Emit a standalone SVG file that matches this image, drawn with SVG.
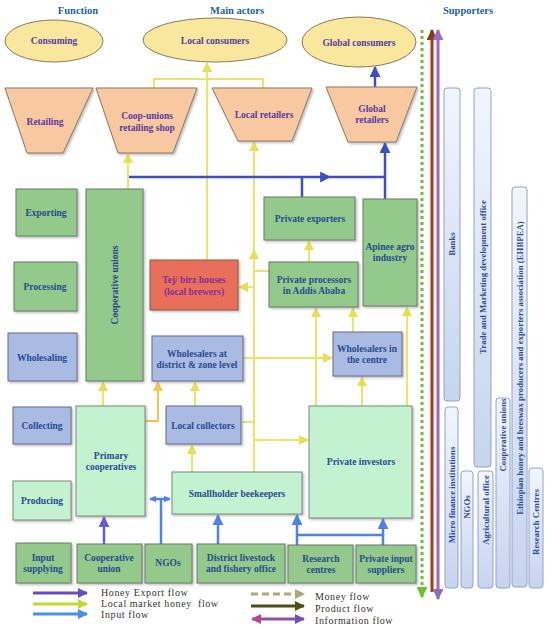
<svg xmlns="http://www.w3.org/2000/svg" width="550" height="629" viewBox="0 0 550 629">
<defs>
<style>
.hdr{font-family:"Liberation Serif",serif;font-weight:bold;font-size:10.5px;fill:#1f5fa0;text-anchor:middle}
.t{font-family:"Liberation Serif",serif;font-weight:bold;font-size:9.5px;fill:#2a4a8f;text-anchor:middle}
.tp{font-family:"Liberation Serif",serif;font-weight:bold;font-size:9.5px;fill:#5a3aa0;text-anchor:middle}
.tr{font-family:"Liberation Serif",serif;font-weight:bold;font-size:9.5px;fill:#8a2a9a;text-anchor:middle}
.st{font-family:"Liberation Serif",serif;font-weight:bold;font-size:8.8px;fill:#2a4a9a;text-anchor:middle}
.leg{font-family:"Liberation Serif",serif;font-size:10px;letter-spacing:0.6px;fill:#333;white-space:pre}
.ell{fill:#f8e79c;stroke:#8a7a55;stroke-width:1}
.trap{fill:#f8c8a0;stroke:#8a7a60;stroke-width:1}
.g{fill:#93c98b;stroke:#6a7a6a;stroke-width:1}
.l{fill:#a9bae3;stroke:#6a6a8a;stroke-width:1}
.lg{fill:#c2f2cf;stroke:#7a8a7a;stroke-width:1}
.red{fill:#e8705a;stroke:#8a5a3a;stroke-width:1}
.sup{fill:url(#supg);stroke:#8fa2cc;stroke-width:1}
.y{stroke:#ece46a;stroke-width:2;fill:none}
.yo{stroke:#f0c84a;stroke-width:2;fill:none}
.b{stroke:#3a4fc0;stroke-width:2.5;fill:none}
.i{stroke:#5080e8;stroke-width:2.5;fill:none}
</style>
<linearGradient id="supg" x1="0" y1="0" x2="0" y2="1">
<stop offset="0" stop-color="#f2f5fc"/>
<stop offset="1" stop-color="#c6d4ee"/>
</linearGradient>
<filter id="sh" x="-10%" y="-10%" width="130%" height="130%">
<feDropShadow dx="1.5" dy="1.5" stdDeviation="0.8" flood-color="#777" flood-opacity="0.5"/>
</filter>
<marker id="ay" viewBox="0 0 10 10" refX="9" refY="5" markerWidth="10" markerHeight="10" markerUnits="userSpaceOnUse" orient="auto"><path d="M0,0L10,5L0,10z" fill="#e6de55"/></marker>
<marker id="ayo" viewBox="0 0 10 10" refX="9" refY="5" markerWidth="10" markerHeight="10" markerUnits="userSpaceOnUse" orient="auto"><path d="M0,0L10,5L0,10z" fill="#f0c84a"/></marker>
<marker id="ab" viewBox="0 0 10 10" refX="9" refY="5" markerWidth="11" markerHeight="11" markerUnits="userSpaceOnUse" orient="auto"><path d="M0,0L10,5L0,10z" fill="#3a4fc0"/></marker>
<marker id="ai" viewBox="0 0 10 10" refX="9" refY="5" markerWidth="11" markerHeight="11" markerUnits="userSpaceOnUse" orient="auto"><path d="M0,0L10,5L0,10z" fill="#5080e8"/></marker>
<marker id="ais" viewBox="0 0 10 10" refX="9" refY="5" markerWidth="7" markerHeight="7" markerUnits="userSpaceOnUse" orient="auto"><path d="M0,0L10,5L0,10z" fill="#5080e8"/></marker>
<marker id="ais2" viewBox="0 0 10 10" refX="1" refY="5" markerWidth="7" markerHeight="7" markerUnits="userSpaceOnUse" orient="auto"><path d="M10,0L0,5L10,10z" fill="#5080e8"/></marker>
<marker id="acu" viewBox="0 0 10 10" refX="9" refY="5" markerWidth="11" markerHeight="11" markerUnits="userSpaceOnUse" orient="auto"><path d="M0,0L10,5L0,10z" fill="#6a5ad8"/></marker>
<marker id="agr" viewBox="0 0 10 10" refX="9" refY="5" markerWidth="11" markerHeight="11" markerUnits="userSpaceOnUse" orient="auto"><path d="M0,0L10,5L0,10z" fill="#6cc030"/></marker>
<marker id="abr" viewBox="0 0 10 10" refX="9" refY="5" markerWidth="11" markerHeight="11" markerUnits="userSpaceOnUse" orient="auto"><path d="M0,0L10,5L0,10z" fill="#8b3a12"/></marker>
<marker id="apu1" viewBox="0 0 10 10" refX="9" refY="5" markerWidth="11" markerHeight="11" markerUnits="userSpaceOnUse" orient="auto"><path d="M0,0L10,5L0,10z" fill="#9a6ac8"/></marker>
<marker id="apu2" viewBox="0 0 10 10" refX="9" refY="5" markerWidth="11" markerHeight="11" markerUnits="userSpaceOnUse" orient="auto"><path d="M0,0L10,5L0,10z" fill="#8a70b0"/></marker>
<marker id="lhe" viewBox="0 0 10 10" refX="9" refY="5" markerWidth="10" markerHeight="10" markerUnits="userSpaceOnUse" orient="auto"><path d="M0,0L10,5L0,10z" fill="#6a4ac0"/></marker>
<marker id="llm" viewBox="0 0 10 10" refX="9" refY="5" markerWidth="10" markerHeight="10" markerUnits="userSpaceOnUse" orient="auto"><path d="M0,0L10,5L0,10z" fill="#c8d830"/></marker>
<marker id="lin" viewBox="0 0 10 10" refX="9" refY="5" markerWidth="10" markerHeight="10" markerUnits="userSpaceOnUse" orient="auto"><path d="M0,0L10,5L0,10z" fill="#4a8ee8"/></marker>
<marker id="lmo" viewBox="0 0 10 10" refX="9" refY="5" markerWidth="10" markerHeight="10" markerUnits="userSpaceOnUse" orient="auto"><path d="M0,0L10,5L0,10z" fill="#a8aa78"/></marker>
<marker id="lpr" viewBox="0 0 10 10" refX="9" refY="5" markerWidth="10" markerHeight="10" markerUnits="userSpaceOnUse" orient="auto"><path d="M0,0L10,5L0,10z" fill="#4a5010"/></marker>
<marker id="lif1" viewBox="0 0 10 10" refX="9" refY="5" markerWidth="10" markerHeight="10" markerUnits="userSpaceOnUse" orient="auto"><path d="M0,0L10,5L0,10z" fill="#7050b0"/></marker>
<marker id="lif2" viewBox="0 0 10 10" refX="1" refY="5" markerWidth="10" markerHeight="10" markerUnits="userSpaceOnUse" orient="auto"><path d="M10,0L0,5L10,10z" fill="#c04090"/></marker>
</defs>
<rect width="550" height="629" fill="#ffffff"/>

<g id="headers">
<text class="hdr" x="78" y="14">Function</text>
<text class="hdr" x="237" y="14">Main actors</text>
<text class="hdr" x="468" y="14">Supporters</text>
</g>

<g id="connectors">
<line class="y" x1="128" y1="189" x2="128" y2="154" marker-end="url(#ay)"/>
<line class="y" x1="207" y1="260" x2="207" y2="63" marker-end="url(#ay)"/>
<polyline class="y" points="154,88 154,79 263,79 263,88"/>
<line class="y" x1="254" y1="472" x2="254" y2="250" marker-end="url(#ay)"/>
<line class="y" x1="254" y1="250" x2="254" y2="142" marker-end="url(#ay)"/>
<line class="y" x1="254" y1="287" x2="239" y2="287" marker-end="url(#ay)"/>
<line class="y" x1="254" y1="271" x2="269" y2="271"/>
<line class="y" x1="241" y1="422" x2="254" y2="422"/>
<line class="y" x1="254" y1="440" x2="308" y2="440" marker-end="url(#ay)"/>
<line class="y" x1="243" y1="358" x2="332" y2="358" marker-end="url(#ay)"/>
<line class="y" x1="309" y1="262" x2="309" y2="241" marker-end="url(#ay)"/>
<line class="y" x1="316" y1="406" x2="316" y2="308" marker-end="url(#ay)"/>
<line class="y" x1="353" y1="332" x2="353" y2="308" marker-end="url(#ay)"/>
<line class="y" x1="407" y1="406" x2="407" y2="307" marker-end="url(#ay)"/>
<line class="y" x1="362" y1="406" x2="362" y2="377" marker-end="url(#ay)"/>
<line class="y" x1="103" y1="406" x2="103" y2="382" marker-end="url(#ay)"/>
<polyline class="yo" points="145,421 158,421 158,382" marker-end="url(#ayo)"/>
<line class="y" x1="195" y1="406" x2="195" y2="382" marker-end="url(#ay)"/>
<line class="y" x1="192" y1="472" x2="192" y2="445" marker-end="url(#ay)"/>
<line class="b" x1="129" y1="177" x2="330" y2="177" marker-end="url(#ab)"/>
<line class="b" x1="330" y1="177" x2="385" y2="177"/>
<line class="b" x1="302" y1="177" x2="302" y2="197"/>
<line class="b" x1="385" y1="199" x2="385" y2="143" marker-end="url(#ab)"/>
<line class="b" x1="375" y1="87" x2="375" y2="67" marker-end="url(#ab)"/>
<line class="i" x1="161" y1="544" x2="161" y2="499"/>
<line class="i" x1="150" y1="499" x2="170" y2="499" stroke-width="2" marker-start="url(#ais2)" marker-end="url(#ais)"/>
<line x1="104" y1="544" x2="104" y2="517" stroke="#6a5ad8" stroke-width="2.5" marker-end="url(#acu)"/>
<line class="i" x1="218" y1="544" x2="218" y2="515" marker-end="url(#ai)"/>
<polyline class="i" points="297,545 297,535 383,535 383,545"/>
<line class="i" x1="297" y1="535" x2="297" y2="515" marker-end="url(#ai)"/>
<line class="i" x1="383" y1="535" x2="383" y2="519" marker-end="url(#ai)"/>
<line x1="422" y1="30" x2="422" y2="597" stroke="#6cc030" stroke-width="3" stroke-dasharray="3,3" marker-end="url(#agr)"/>
<line x1="432" y1="592" x2="432" y2="30" stroke="#a83818" stroke-width="3" marker-end="url(#abr)"/>
<line x1="438" y1="40" x2="438" y2="590" stroke="#a068b8" stroke-width="3"/>
<line x1="438" y1="40" x2="438" y2="30" stroke="#a068b8" stroke-width="3" marker-end="url(#apu1)"/>
<line x1="438" y1="590" x2="438" y2="599" stroke="#8a70b0" stroke-width="3" marker-end="url(#apu2)"/>
</g>

<g id="consuming"><ellipse class="ell" cx="54" cy="41" rx="49" ry="21"/><text class="tp" x="54" y="44">Consuming</text></g>
<g id="local-consumers"><ellipse class="ell" cx="215" cy="40" rx="72" ry="22"/><text class="tp" x="215" y="44">Local consumers</text></g>
<g id="global-consumers"><ellipse class="ell" cx="359" cy="42" rx="57" ry="25"/><text class="tp" x="359" y="46">Global consumers</text></g>

<g id="retailing"><polygon class="trap" points="5,88 93,88 63,153 27,153" filter="url(#sh)"/><text class="tp" x="45" y="125">Retailing</text></g>
<g id="coop-shop"><polygon class="trap" points="96,88 197,88 173,153 118,153" filter="url(#sh)"/><text class="tp" x="147" y="119">Coop-unions</text><text class="tp" x="147" y="131">retailing shop</text></g>
<g id="local-retailers"><polygon class="trap" points="212,88 312,88 292,141 238,141" filter="url(#sh)"/><text class="tp" x="264" y="118">Local retailers</text></g>
<g id="global-retailers"><polygon class="trap" points="326,87 417,87 396,142 348,142" filter="url(#sh)"/><text class="tp" x="372" y="112">Global</text><text class="tp" x="372" y="123">retailers</text></g>

<g id="exporting"><rect class="g" x="16" y="189" width="61" height="47" filter="url(#sh)"/><text class="t" x="46" y="216">Exporting</text></g>
<g id="processing"><rect class="g" x="14" y="262" width="63" height="49" filter="url(#sh)"/><text class="t" x="45" y="290">Processing</text></g>
<g id="wholesaling"><rect class="l" x="8" y="333" width="69" height="48" filter="url(#sh)"/><text class="t" x="42" y="361">Wholesaling</text></g>
<g id="collecting"><rect class="l" x="13" y="407" width="58" height="37" filter="url(#sh)"/><text class="t" x="42" y="429">Collecting</text></g>
<g id="producing"><rect class="lg" x="13" y="481" width="58" height="39" filter="url(#sh)"/><text class="t" x="42" y="504">Producing</text></g>
<g id="input-supplying"><rect class="g" x="16" y="543" width="55" height="40" filter="url(#sh)"/><text class="t" x="43" y="561">Input</text><text class="t" x="43" y="572">supplying</text></g>

<g id="cooperative-unions"><rect class="g" x="86" y="189" width="57" height="192" filter="url(#sh)"/><text class="t" transform="translate(118,285) rotate(-90)">Cooperative unions</text></g>
<g id="tej-birz"><rect class="red" x="150" y="260" width="88" height="50" filter="url(#sh)"/><text class="tr" x="194" y="283">Tej/ birz houses</text><text class="tr" x="194" y="295">(local brewers)</text></g>
<g id="private-exporters"><rect class="g" x="264" y="197" width="91" height="43" filter="url(#sh)"/><text class="t" x="310" y="222">Private exporters</text></g>
<g id="apinee"><rect class="g" x="363" y="199" width="54" height="107" filter="url(#sh)"/><text class="t" x="390" y="250">Apinee agro</text><text class="t" x="390" y="261">industry</text></g>
<g id="private-processors"><rect class="g" x="269" y="262" width="89" height="45" filter="url(#sh)"/><text class="t" x="314" y="283">Private processors</text><text class="t" x="314" y="294">in Addis Ababa</text></g>
<g id="wholesalers-district"><rect class="l" x="152" y="336" width="91" height="45" filter="url(#sh)"/><text class="t" x="197" y="357">Wholesalers at</text><text class="t" x="197" y="368">district &amp; zone level</text></g>
<g id="wholesalers-centre"><rect class="l" x="333" y="332" width="69" height="44" filter="url(#sh)"/><text class="t" x="367" y="352">Wholesalers in</text><text class="t" x="367" y="363">the centre</text></g>
<g id="local-collectors"><rect class="l" x="166" y="406" width="75" height="38" filter="url(#sh)"/><text class="t" x="203" y="429">Local collectors</text></g>
<g id="primary-cooperatives"><rect class="lg" x="76" y="406" width="69" height="110" filter="url(#sh)"/><text class="t" x="111" y="459">Primary</text><text class="t" x="111" y="470">cooperatives</text></g>
<g id="smallholder"><rect class="lg" x="172" y="472" width="130" height="42" filter="url(#sh)"/><text class="t" x="237" y="497">Smallholder beekeepers</text></g>
<g id="private-investors"><rect class="lg" x="309" y="406" width="103" height="112" filter="url(#sh)"/><text class="t" x="361" y="465">Private investors</text></g>

<g id="cooperative-union"><rect class="g" x="77" y="544" width="65" height="39" filter="url(#sh)"/><text class="t" x="109" y="561">Cooperative</text><text class="t" x="109" y="572">union</text></g>
<g id="ngos"><rect class="g" x="145" y="544" width="47" height="39" filter="url(#sh)"/><text class="t" x="168" y="566">NGOs</text></g>
<g id="district-office"><rect class="g" x="197" y="544" width="88" height="39" filter="url(#sh)"/><text class="t" x="241" y="561">District livestock</text><text class="t" x="241" y="572">and fishery office</text></g>
<g id="research-centres"><rect class="g" x="288" y="545" width="65" height="38" filter="url(#sh)"/><text class="t" x="321" y="562">Research</text><text class="t" x="321" y="573">centres</text></g>
<g id="private-input"><rect class="g" x="356" y="545" width="60" height="38" filter="url(#sh)"/><text class="t" x="386" y="562">Private input</text><text class="t" x="386" y="573">suppliers</text></g>

<g id="supporters">
<g id="banks"><rect class="sup" x="444" y="88" width="16" height="313" rx="3"/><text class="st" transform="translate(455,244) rotate(-90)">Banks</text></g>
<g id="trade-office"><rect class="sup" x="474" y="88" width="17" height="379" rx="3"/><text class="st" transform="translate(485.5,277) rotate(-90)">Trade and Marketing development office</text></g>
<g id="ehbpea"><rect class="sup" x="512" y="187" width="15" height="400" rx="3"/><text class="st" transform="translate(522.5,368) rotate(-90)">Ethiopian honey and beeswax producers and exporters association (EHBPEA)</text></g>
<g id="mfi"><rect class="sup" x="445" y="407" width="13" height="181" rx="3"/><text class="st" transform="translate(454.5,495) rotate(-90)">Micro finance institutions</text></g>
<g id="s-ngos"><rect class="sup" x="461" y="471" width="12" height="117" rx="3"/><text class="st" transform="translate(470,507) rotate(-90)">NGOs</text></g>
<g id="agri-office"><rect class="sup" x="478" y="471" width="15" height="117" rx="3"/><text class="st" transform="translate(488.5,510) rotate(-90)">Agricultural office</text></g>
<g id="s-coop-unions"><rect class="sup" x="496" y="398" width="14" height="190" rx="3"/><text class="st" transform="translate(506,435) rotate(-90)">Cooperative unions</text></g>
<g id="s-research"><rect class="sup" x="529" y="468" width="14" height="120" rx="3"/><text class="st" transform="translate(539,522) rotate(-90)">Research Centres</text></g>
</g>

<g id="legend">
<line x1="33" y1="593" x2="87" y2="593" stroke="#6a4ac0" stroke-width="3" marker-end="url(#lhe)"/>
<line x1="33" y1="604" x2="87" y2="604" stroke="#c8d830" stroke-width="3" marker-end="url(#llm)"/>
<line x1="33" y1="614" x2="87" y2="614" stroke="#4a8ee8" stroke-width="3" marker-end="url(#lin)"/>
<text class="leg" x="101" y="596">Honey Export flow</text>
<text class="leg" x="101" y="607">Local market honey  flow</text>
<text class="leg" x="101" y="618">Input flow</text>
<line x1="251" y1="594" x2="304" y2="594" stroke="#a8aa78" stroke-width="3" stroke-dasharray="7,4" marker-end="url(#lmo)"/>
<line x1="251" y1="606" x2="304" y2="606" stroke="#4a5010" stroke-width="3" marker-end="url(#lpr)"/>
<line x1="252" y1="619" x2="304" y2="619" stroke="#9050a8" stroke-width="3" marker-start="url(#lif2)" marker-end="url(#lif1)"/>
<text class="leg" x="315" y="600">Money flow</text>
<text class="leg" x="315" y="612">Product flow</text>
<text class="leg" x="315" y="624">Information flow</text>
</g>
</svg>
